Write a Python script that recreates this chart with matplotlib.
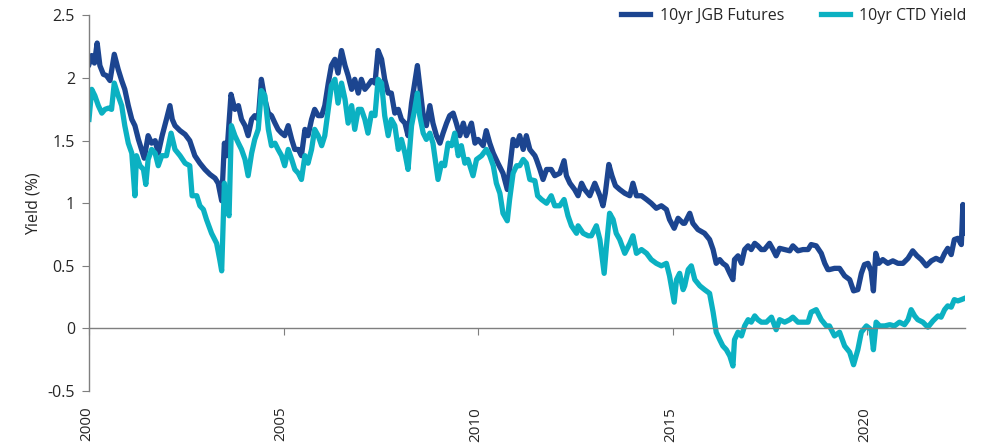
import matplotlib
matplotlib.use("Agg")
import matplotlib.pyplot as plt

# 10yr JGB futures implied yield (%)
jgb_years = [
    2000.00, 2000.07, 2000.14, 2000.21, 2000.28, 2000.37, 2000.45, 2000.54, 2000.65, 2000.75,
    2000.84, 2000.92, 2001.01, 2001.10, 2001.18, 2001.27, 2001.35, 2001.42, 2001.52, 2001.61,
    2001.70, 2001.78, 2001.88, 2001.99, 2002.08, 2002.14, 2002.21, 2002.34, 2002.47, 2002.59,
    2002.72, 2002.85, 2002.98, 2003.11, 2003.24, 2003.32, 2003.41, 2003.48, 2003.54, 2003.65,
    2003.75, 2003.84, 2003.92, 2004.01, 2004.09, 2004.18, 2004.26, 2004.35, 2004.43, 2004.52,
    2004.61, 2004.69, 2004.78, 2004.86, 2004.95, 2005.03, 2005.12, 2005.21, 2005.29, 2005.38,
    2005.46, 2005.55, 2005.63, 2005.72, 2005.80, 2005.89, 2005.98, 2006.06, 2006.15, 2006.23,
    2006.32, 2006.40, 2006.49, 2006.58, 2006.66, 2006.75, 2006.83, 2006.92, 2007.00, 2007.09,
    2007.17, 2007.26, 2007.35, 2007.43, 2007.52,
    2007.60, 2007.69, 2007.77, 2007.86, 2007.95, 2008.03, 2008.12, 2008.20, 2008.29, 2008.37,
    2008.44, 2008.50, 2008.59, 2008.67, 2008.76, 2008.84, 2008.93, 2009.02, 2009.10, 2009.19,
    2009.27, 2009.36, 2009.44, 2009.53, 2009.62, 2009.70, 2009.83, 2009.92, 2010.00, 2010.13,
    2010.21, 2010.30, 2010.39, 2010.51, 2010.64, 2010.75, 2010.81, 2010.90, 2010.99, 2011.07,
    2011.16, 2011.24, 2011.33,
    2011.46, 2011.50, 2011.59, 2011.67, 2011.76, 2011.88, 2011.97, 2012.10, 2012.21, 2012.27,
    2012.36, 2012.48, 2012.57, 2012.66, 2012.74, 2012.87, 2013.00, 2013.13, 2013.21, 2013.27,
    2013.36, 2013.44, 2013.53, 2013.64, 2013.77, 2013.90, 2013.98, 2014.07, 2014.20, 2014.33,
    2014.45, 2014.58, 2014.71, 2014.84, 2014.92, 2015.04, 2015.14, 2015.27,
    2015.31, 2015.44, 2015.52, 2015.65, 2015.82, 2015.95, 2016.04, 2016.12, 2016.21, 2016.29,
    2016.38, 2016.47, 2016.55, 2016.59, 2016.68, 2016.77, 2016.85, 2016.94, 2017.02, 2017.11,
    2017.19, 2017.28, 2017.36, 2017.49, 2017.58, 2017.66, 2017.75, 2017.88, 2018.01, 2018.09,
    2018.22, 2018.35, 2018.48, 2018.56, 2018.69, 2018.82, 2018.91, 2018.99,
    2019.03, 2019.16, 2019.29, 2019.42, 2019.55, 2019.65, 2019.76, 2019.85, 2019.93, 2020.02,
    2020.10, 2020.16, 2020.22, 2020.30, 2020.40, 2020.53, 2020.66, 2020.79, 2020.92, 2021.05,
    2021.17, 2021.28, 2021.39, 2021.52, 2021.65, 2021.77, 2021.90, 2021.99, 2022.07, 2022.16,
    2022.24, 2022.33, 2022.42, 2022.46, 2022.50,
]
jgb_vals = [
    2.11, 2.18, 2.12, 2.28, 2.10, 2.03, 2.02, 1.98, 2.19, 2.07,
    1.98, 1.91, 1.78, 1.67, 1.62, 1.51, 1.43, 1.36, 1.54, 1.48,
    1.50, 1.40, 1.54, 1.67, 1.78, 1.67, 1.62, 1.58, 1.55, 1.50,
    1.38, 1.32, 1.27, 1.23, 1.20, 1.16, 1.02, 1.48, 1.38, 1.87,
    1.75, 1.78, 1.67, 1.62, 1.54, 1.67, 1.70, 1.67, 1.99, 1.83,
    1.72, 1.70, 1.64, 1.59, 1.56, 1.54, 1.62, 1.51, 1.43, 1.43,
    1.38, 1.59, 1.54, 1.67, 1.75, 1.70, 1.70, 1.78, 1.96, 2.10,
    2.15, 2.04, 2.22, 2.10, 2.02, 1.91, 1.99, 1.88, 1.99, 1.91,
    1.94, 1.98, 1.96, 2.22, 2.15,
    1.99, 1.88, 1.88, 1.72, 1.75, 1.67, 1.64, 1.54, 1.80, 1.96,
    2.10, 1.94, 1.70, 1.62, 1.78, 1.64, 1.54, 1.48, 1.56, 1.64,
    1.70, 1.72, 1.64, 1.54, 1.64, 1.54, 1.64, 1.48, 1.51, 1.46,
    1.58, 1.48, 1.40, 1.32, 1.24, 1.11, 1.27, 1.51, 1.46, 1.54,
    1.43, 1.54, 1.43,
    1.38, 1.35, 1.27, 1.19, 1.27, 1.27, 1.22, 1.24, 1.34, 1.22,
    1.16, 1.11, 1.06, 1.16, 1.11, 1.06, 1.16, 1.06, 0.98, 1.08,
    1.31, 1.22, 1.14, 1.11, 1.08, 1.06, 1.16, 1.06, 1.06, 1.03,
    1.00, 0.96, 0.98, 0.95, 0.87, 0.80, 0.88, 0.84,
    0.84, 0.92, 0.84, 0.79, 0.76, 0.71, 0.63, 0.52, 0.55, 0.52,
    0.50, 0.44, 0.39, 0.55, 0.58, 0.52, 0.63, 0.66, 0.63, 0.68,
    0.66, 0.63, 0.63, 0.68, 0.63, 0.58, 0.64, 0.63, 0.62, 0.66,
    0.62, 0.63, 0.63, 0.67, 0.66, 0.60, 0.52, 0.47,
    0.47, 0.48, 0.48, 0.42, 0.39, 0.30, 0.31, 0.44, 0.51, 0.52,
    0.46, 0.30, 0.60, 0.52, 0.55, 0.52, 0.54, 0.52, 0.52, 0.56,
    0.62, 0.58, 0.55, 0.50, 0.54, 0.56, 0.54, 0.60, 0.64, 0.59,
    0.71, 0.72, 0.67, 0.99, 0.76,
]

# 10yr cheapest-to-deliver bond yield (%)
ctd_years = [
    2000.00, 2000.07, 2000.15, 2000.24, 2000.33, 2000.41, 2000.50, 2000.58, 2000.65, 2000.75,
    2000.84, 2000.92, 2001.01, 2001.10, 2001.18, 2001.22, 2001.31, 2001.40, 2001.46, 2001.52,
    2001.61, 2001.70, 2001.78, 2001.87, 2001.99, 2002.11, 2002.21, 2002.34, 2002.47, 2002.59,
    2002.65, 2002.77, 2002.85, 2002.94, 2003.02, 2003.15, 2003.28, 2003.36, 2003.41, 2003.48,
    2003.54, 2003.60, 2003.66,
    2003.75, 2003.84, 2003.92, 2004.01, 2004.09, 2004.18, 2004.26, 2004.35, 2004.43, 2004.52,
    2004.61, 2004.69, 2004.78, 2004.86, 2004.95, 2005.03, 2005.12, 2005.21, 2005.29, 2005.38,
    2005.46, 2005.55, 2005.63, 2005.72, 2005.80, 2005.89, 2005.98, 2006.06, 2006.15, 2006.23,
    2006.32, 2006.40, 2006.49, 2006.58, 2006.66, 2006.75, 2006.83, 2006.92, 2007.00, 2007.09,
    2007.17, 2007.26, 2007.35, 2007.43, 2007.52,
    2007.60, 2007.69, 2007.77, 2007.86, 2007.95, 2008.03, 2008.12, 2008.20, 2008.29, 2008.37,
    2008.44, 2008.50, 2008.59, 2008.67, 2008.76, 2008.84, 2008.97, 2009.06, 2009.14, 2009.23,
    2009.32, 2009.40, 2009.49, 2009.57, 2009.66, 2009.74, 2009.87, 2009.96, 2010.09, 2010.21,
    2010.30, 2010.39, 2010.47, 2010.56, 2010.64, 2010.75, 2010.81, 2010.90, 2010.99, 2011.07,
    2011.16, 2011.24, 2011.33,
    2011.46, 2011.53, 2011.63, 2011.76, 2011.88, 2011.97, 2012.10, 2012.21, 2012.31, 2012.40,
    2012.53, 2012.57, 2012.70, 2012.83, 2012.91, 2013.04, 2013.13, 2013.24, 2013.30, 2013.38,
    2013.47, 2013.55, 2013.64, 2013.77, 2013.90, 2013.98, 2014.07, 2014.20, 2014.33, 2014.45,
    2014.58, 2014.71, 2014.84, 2014.92, 2015.04, 2015.10, 2015.18, 2015.27,
    2015.31, 2015.40, 2015.48, 2015.57, 2015.70, 2015.82, 2015.95, 2016.04, 2016.12, 2016.21,
    2016.29, 2016.38, 2016.47, 2016.55, 2016.59, 2016.68, 2016.77, 2016.85, 2016.94, 2017.02,
    2017.11, 2017.19, 2017.28, 2017.41, 2017.54, 2017.66, 2017.75, 2017.88, 2018.01, 2018.09,
    2018.22, 2018.35, 2018.48, 2018.56, 2018.69, 2018.82, 2018.95,
    2019.03, 2019.16, 2019.29, 2019.42, 2019.55, 2019.65, 2019.76, 2019.85, 2019.98, 2020.10,
    2020.16, 2020.23, 2020.32, 2020.45, 2020.58, 2020.70, 2020.83, 2020.96, 2021.05, 2021.13,
    2021.22, 2021.30, 2021.43, 2021.56, 2021.69, 2021.82, 2021.90, 2021.99, 2022.07, 2022.16,
    2022.24, 2022.33, 2022.42, 2022.50,
]
ctd_vals = [
    1.67, 1.91, 1.86, 1.78, 1.72, 1.75, 1.76, 1.75, 1.96, 1.86,
    1.78, 1.62, 1.48, 1.40, 1.06, 1.38, 1.30, 1.27, 1.15, 1.35,
    1.43, 1.40, 1.30, 1.38, 1.38, 1.56, 1.43, 1.38, 1.32, 1.30,
    1.06, 1.06, 0.98, 0.95, 0.87, 0.76, 0.68, 0.55, 0.46, 1.16,
    0.95, 0.90, 1.62,
    1.54, 1.48, 1.43, 1.35, 1.22, 1.40, 1.51, 1.59, 1.90, 1.86,
    1.59, 1.46, 1.48, 1.43, 1.38, 1.30, 1.43, 1.35, 1.27, 1.24,
    1.19, 1.38, 1.32, 1.43, 1.59, 1.54, 1.46, 1.54, 1.75, 1.94,
    1.99, 1.80, 1.96, 1.83, 1.64, 1.78, 1.59, 1.75, 1.75, 1.67,
    1.56, 1.72, 1.70, 1.99, 1.96,
    1.70, 1.54, 1.67, 1.62, 1.43, 1.51, 1.40, 1.27, 1.62, 1.75,
    1.88, 1.70, 1.56, 1.51, 1.56, 1.48, 1.19, 1.32, 1.30, 1.48,
    1.46, 1.56, 1.38, 1.46, 1.32, 1.35, 1.22, 1.35, 1.38, 1.43,
    1.38, 1.30, 1.16, 1.08, 0.92, 0.86, 1.03, 1.24, 1.30, 1.30,
    1.35, 1.32, 1.19,
    1.18, 1.06, 1.03, 1.00, 1.06, 0.98, 0.98, 1.03, 0.90, 0.82,
    0.76, 0.82, 0.76, 0.74, 0.74, 0.82, 0.71, 0.44, 0.66, 0.92,
    0.87, 0.76, 0.71, 0.60, 0.68, 0.74, 0.60, 0.63, 0.60, 0.55,
    0.52, 0.50, 0.52, 0.42, 0.21, 0.39, 0.44, 0.31,
    0.34, 0.47, 0.50, 0.39, 0.34, 0.31, 0.28, 0.13, -0.03, -0.09,
    -0.14, -0.17, -0.22, -0.30, -0.09, -0.03, -0.06, 0.02, 0.07, 0.05,
    0.10, 0.07, 0.05, 0.05, 0.09, -0.01, 0.07, 0.05, 0.07, 0.09,
    0.05, 0.05, 0.05, 0.13, 0.15, 0.07, 0.02,
    0.02, -0.06, -0.03, -0.14, -0.19, -0.29, -0.17, -0.03, 0.02, -0.01,
    -0.17, 0.05, 0.02, 0.02, 0.03, 0.02, 0.05, 0.03, 0.07, 0.15,
    0.10, 0.07, 0.05, 0.01, 0.06, 0.10, 0.09, 0.15, 0.18, 0.17,
    0.23, 0.22, 0.23, 0.24,
]

year_ticks = [2000, 2005, 2010, 2015, 2020]
year_labels = ["2000", "2005", "2010", "2015", "2020"]
y_ticks = [-0.5, 0, 0.5, 1, 1.5, 2, 2.5]
y_labels = ["-0.5", "0", "0.5", "1", "1.5", "2", "2.5"]

plt.rcParams["font.family"] = ["Open Sans", "DejaVu Sans"]
DARK = "#1c4590"
CYAN = "#0bb1c2"
GREY = "#7f7f7f"
TXT = "#262626"

fig = plt.figure(figsize=(9.91, 4.45), dpi=100)
ax = fig.add_axes([0.0898, 0.1213, 0.8842, 0.8439])

ax.plot(jgb_years, jgb_vals, color=DARK, lw=3.8, solid_joinstyle="round", label="10yr JGB Futures")
ax.plot(ctd_years, ctd_vals, color=CYAN, lw=3.8, solid_joinstyle="round", label="10yr CTD Yield")

ax.set_xlim(2000, 2022.52)
ax.set_ylim(-0.5, 2.5)

ax.spines["top"].set_visible(False)
ax.spines["right"].set_visible(False)
ax.spines["bottom"].set_position(("data", 0))
for s in ("left", "bottom"):
    ax.spines[s].set_color(GREY)
    ax.spines[s].set_linewidth(1.0)

ax.set_yticks(y_ticks)
ax.set_yticklabels(y_labels)
ax.set_xticks(year_ticks)
ax.tick_params(axis="x", direction="out", length=5, color=GREY, labelbottom=False)
ax.tick_params(axis="y", direction="out", length=5, color=GREY, labelsize=11.5, labelcolor=TXT, pad=5)

# year labels sit under the plot, not on the zero line
for yr, lab in zip(year_ticks, year_labels):
    ax.text(yr - 0.06, -0.042, lab, transform=ax.get_xaxis_transform(), rotation=90,
            ha="center", va="top", fontsize=11, color=TXT)

ax.set_ylabel("Yield (%)", fontsize=11.5, color=TXT, labelpad=4)

ax.legend(loc="upper right", bbox_to_anchor=(1.018, 1.058), ncol=2, frameon=False,
          fontsize=11.5, handlelength=1.8, columnspacing=2.3, handletextpad=0.6,
          labelcolor=TXT)

fig.savefig("out.png", dpi=100)
